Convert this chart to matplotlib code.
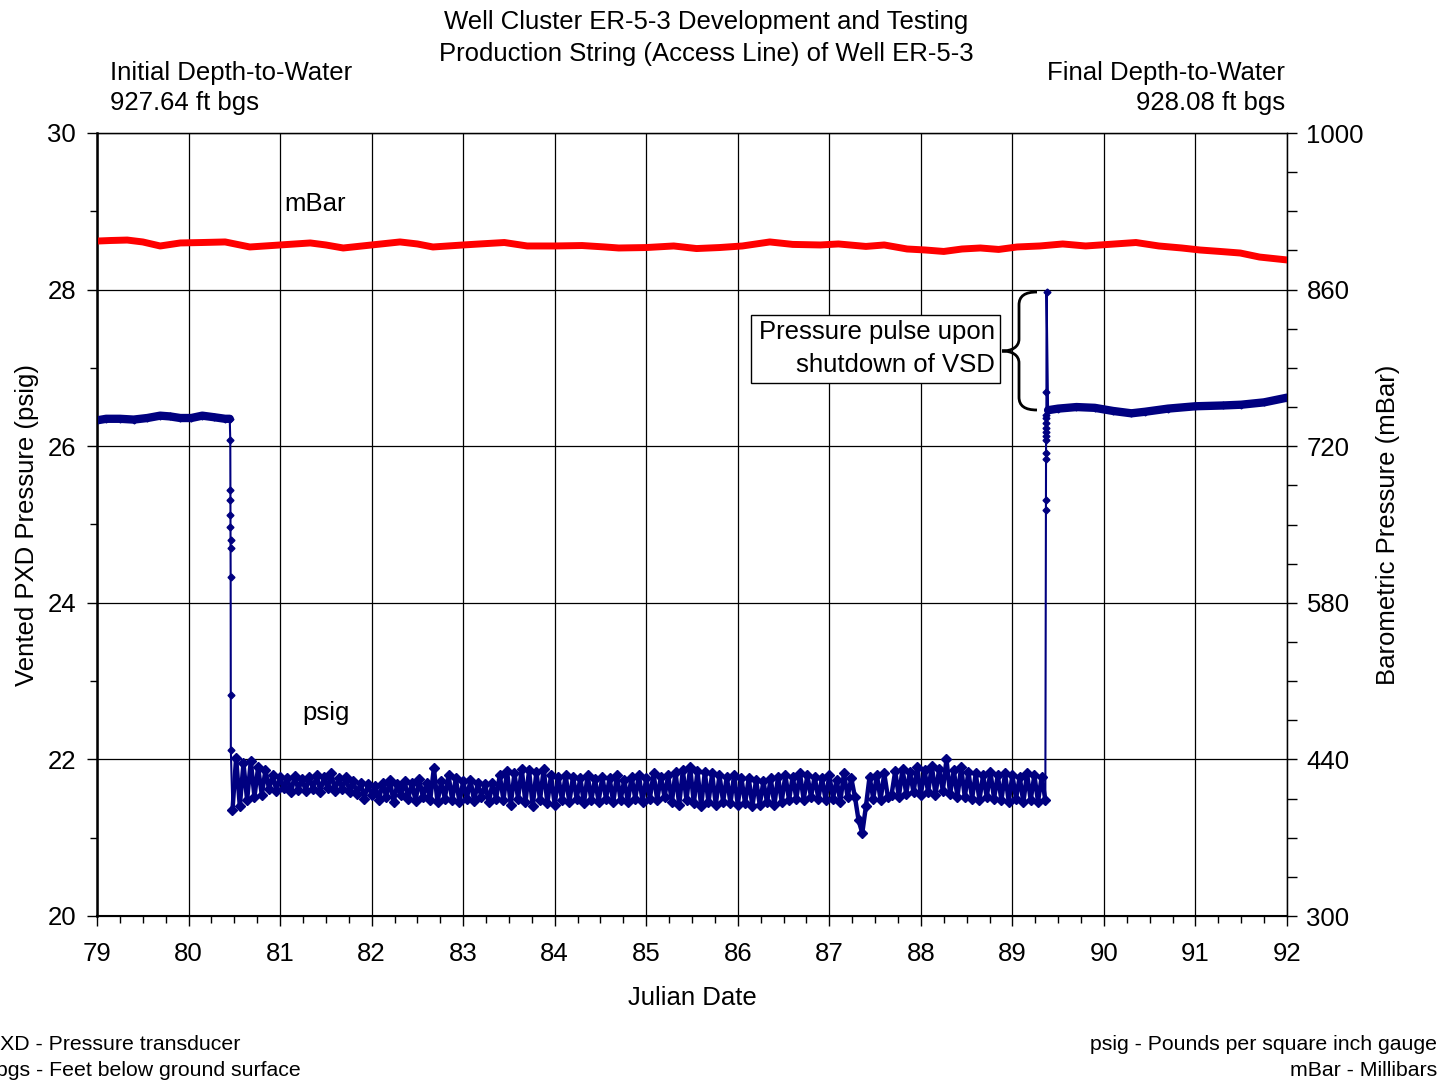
import matplotlib
matplotlib.use('Agg')
import matplotlib.pyplot as plt
import numpy as np
from matplotlib.path import Path
from matplotlib.patches import PathPatch, Rectangle
from matplotlib.ticker import MultipleLocator, FixedLocator

plt.rcParams['font.family'] = ['Liberation Sans', 'DejaVu Sans']

# ---- data ----
# barometric pressure (mBar), right axis
baro_day = [79.00, 79.15, 79.33, 79.50, 79.69, 79.91, 80.15, 80.40, 80.67, 81.00,
            81.33, 81.50, 81.69, 82.00, 82.31, 82.50, 82.67, 83.00, 83.18, 83.45,
            83.70, 84.00, 84.30, 84.55, 84.70, 85.00, 85.30, 85.55, 85.80, 86.05,
            86.35, 86.60, 86.90, 87.10, 87.40, 87.60, 87.85, 88.05, 88.25, 88.45,
            88.65, 88.85, 89.05, 89.30, 89.55, 89.80, 90.05, 90.35, 90.60, 90.85,
            91.05, 91.27, 91.49, 91.70, 92.00]
baro_mbar = [903.4, 903.9, 904.3, 902.6, 899.0, 901.7, 902.1, 902.6, 898.1, 899.9,
             901.7, 899.9, 897.2, 899.9, 902.6, 900.8, 898.1, 899.9, 900.8, 902.1,
             899.0, 899.0, 899.4, 898.1, 897.2, 897.6, 899.0, 896.7, 897.6, 899.0,
             902.6, 900.4, 899.9, 900.8, 898.6, 899.9, 896.3, 895.4, 894.1, 896.3,
             897.2, 895.9, 898.1, 899.0, 900.8, 899.0, 900.4, 902.1, 899.0, 897.2,
             895.4, 894.1, 892.7, 889.1, 886.5]

# vented PXD pressure (psig), left axis
pre_day = [79.00, 79.10, 79.25, 79.40, 79.55, 79.69, 79.80, 79.91, 80.03, 80.15,
           80.28, 80.40, 80.45]
pre_psig = [26.33, 26.35, 26.35, 26.34, 26.36, 26.39, 26.38, 26.36, 26.36, 26.39,
            26.37, 26.35, 26.35]

drop_day = [80.456, 80.457, 80.457, 80.458, 80.458, 80.459, 80.459, 80.460, 80.461, 80.462]
drop_psig = [26.08, 25.44, 25.31, 25.12, 24.97, 24.80, 24.70, 24.33, 22.82, 22.12]

# pumping period, one reading every 0.04 day starting at day 80.48
noise_start = 80.48
noise_step = 0.04
noise_psig = [
    21.35, 22.02, 21.40, 21.95, 21.48, 21.98, 21.52, 21.90, 21.55, 21.86,
    21.62, 21.80, 21.60, 21.78, 21.63, 21.76, 21.58, 21.79, 21.61, 21.75,
    21.60, 21.78, 21.62, 21.80, 21.59, 21.77, 21.63, 21.82, 21.60, 21.76,
    21.62, 21.78, 21.58, 21.72, 21.56, 21.70, 21.50, 21.68, 21.55, 21.66,
    21.48, 21.70, 21.52, 21.74, 21.45, 21.68, 21.55, 21.72, 21.50, 21.70,
    21.47, 21.75, 21.52, 21.70, 21.48, 21.89, 21.45, 21.72, 21.50, 21.80,
    21.48, 21.76, 21.45, 21.72, 21.50, 21.74, 21.47, 21.70, 21.52, 21.68,
    21.45, 21.70, 21.50, 21.80, 21.48, 21.85, 21.42, 21.82, 21.50, 21.88,
    21.45, 21.86, 21.40, 21.84, 21.48, 21.88, 21.44, 21.80, 21.42, 21.78,
    21.48, 21.80, 21.45, 21.78, 21.50, 21.76, 21.44, 21.80, 21.48, 21.75,
    21.46, 21.78, 21.50, 21.76, 21.45, 21.80, 21.48, 21.74, 21.46, 21.78,
    21.50, 21.80, 21.46, 21.76, 21.50, 21.82, 21.48, 21.78, 21.52, 21.80,
    21.45, 21.84, 21.42, 21.86, 21.48, 21.90, 21.44, 21.85, 21.40, 21.84,
    21.45, 21.82, 21.42, 21.80, 21.46, 21.78, 21.44, 21.80, 21.42, 21.76,
    21.44, 21.76, 21.40, 21.74, 21.42, 21.72, 21.45, 21.76, 21.42, 21.78,
    21.46, 21.80, 21.48, 21.78, 21.50, 21.82, 21.48, 21.80, 21.52, 21.78,
    21.50, 21.76, 21.48, 21.80, 21.50, 21.74, 21.46, 21.82, 21.52, 21.76,
    21.52, 21.22, 21.06, 21.40, 21.78, 21.50, 21.80, 21.48, 21.82, 21.52,
    21.55, 21.85, 21.52, 21.88, 21.56, 21.84, 21.58, 21.90, 21.55, 21.86,
    21.58, 21.92, 21.55, 21.88, 21.60, 22.00, 21.56, 21.86, 21.52, 21.90,
    21.52, 21.84, 21.50, 21.82, 21.48, 21.80, 21.52, 21.84, 21.50, 21.80,
    21.48, 21.82, 21.46, 21.80, 21.50, 21.78, 21.45, 21.82, 21.48, 21.80,
    21.46, 21.78, 21.48,
]

rise_day = [89.366, 89.367, 89.367, 89.368, 89.368, 89.369, 89.369, 89.370, 89.370,
            89.371, 89.371, 89.372, 89.373]
rise_psig = [25.19, 25.31, 25.84, 25.91, 26.08, 26.13, 26.18, 26.23, 26.30,
             26.36, 26.40, 26.69, 27.97]

post_day = [89.39, 89.50, 89.70, 89.90, 90.10, 90.30, 90.45, 90.70, 91.00, 91.30,
            91.50, 91.75, 92.00]
post_psig = [26.46, 26.48, 26.50, 26.49, 26.45, 26.42, 26.44, 26.48, 26.51, 26.52,
             26.53, 26.56, 26.62]

NAVY = '#000080'
RED = '#ff0000'
FS = 18.5
FS_NOTE = 15.3

W, H = 1444, 1085


def fx(px):
    return px / W


def fy(py):
    return 1 - py / H


noise_day = noise_start + noise_step * np.arange(len(noise_psig))
all_day = np.concatenate([pre_day, drop_day, noise_day, rise_day, post_day])
all_psig = np.concatenate([pre_psig, drop_psig, noise_psig, rise_psig, post_psig])

fig = plt.figure(figsize=(14.44, 10.85), dpi=100)
ax = fig.add_axes([fx(97), fy(916), fx(1287) - fx(97), fy(133) - fy(916)])
ax2 = ax.twinx()

ax.plot(all_day, all_psig, color=NAVY, lw=1.5, marker='D', ms=3.5, zorder=3)
ax.plot(noise_day, noise_psig, color=NAVY, lw=3.2, marker='D', ms=5, zorder=3)
ax.plot(pre_day, pre_psig, color=NAVY, lw=6, solid_capstyle='round', zorder=3)
ax.plot(post_day, post_psig, color=NAVY, lw=6, solid_capstyle='round', zorder=3)
ax2.plot(baro_day, baro_mbar, color=RED, lw=5, solid_capstyle='round',
         solid_joinstyle='round')

ax.set_xlim(79, 92)
ax.set_ylim(20, 30)
ax2.set_ylim(300, 1000)

ax.xaxis.set_major_locator(MultipleLocator(1))
ax.xaxis.set_minor_locator(MultipleLocator(0.25))
ax.yaxis.set_major_locator(MultipleLocator(2))
ax.yaxis.set_minor_locator(MultipleLocator(1))
ax2.yaxis.set_major_locator(FixedLocator(np.arange(300, 1001, 140)))
ax2.yaxis.set_minor_locator(FixedLocator(np.arange(300, 1001, 35)))

ax.grid(True, which='major', color='black', lw=0.9)
ax.set_axisbelow(True)

ax.tick_params(axis='x', which='major', direction='out', length=7, width=1,
               labelsize=FS, pad=12)
ax.tick_params(axis='x', which='minor', direction='out', length=5, width=1)
ax.tick_params(axis='y', which='major', direction='out', length=7, width=1,
               labelsize=FS, pad=8)
ax.tick_params(axis='y', which='minor', direction='out', length=5, width=1)
ax2.tick_params(axis='y', which='both', direction='out', length=7, width=1,
                labelsize=FS, pad=7)

for sp in ax.spines.values():
    sp.set_linewidth(1)
ax.spines['left'].set_linewidth(1.8)
ax.spines['bottom'].set_linewidth(1.5)

ax.set_xlabel('Julian Date', fontsize=FS, labelpad=14)
ax.set_ylabel('Vented PXD Pressure (psig)', fontsize=FS, labelpad=6)
ax2.set_ylabel('Barometric Pressure (mBar)', fontsize=FS, labelpad=9)

# series labels
ax.text(81.05, 29.0, 'mBar', fontsize=FS, ha='left', va='baseline')
ax.text(81.24, 22.5, 'psig', fontsize=FS, ha='left', va='baseline')

# titles and notes
fig.text(fx(706), fy(29), 'Well Cluster ER-5-3 Development and Testing',
         fontsize=FS, ha='center', va='baseline')
fig.text(fx(706), fy(61), 'Production String (Access Line) of Well ER-5-3',
         fontsize=FS, ha='center', va='baseline')
fig.text(fx(110), fy(80), 'Initial Depth-to-Water', fontsize=FS, ha='left', va='baseline')
fig.text(fx(110), fy(110), '927.64 ft bgs', fontsize=FS, ha='left', va='baseline')
fig.text(fx(1285), fy(80), 'Final Depth-to-Water', fontsize=FS, ha='right', va='baseline')
fig.text(fx(1285), fy(110), '928.08 ft bgs', fontsize=FS, ha='right', va='baseline')

fig.text(fx(-14), fy(1050), 'PXD - Pressure transducer', fontsize=FS_NOTE,
         ha='left', va='baseline')
fig.text(fx(-4), fy(1076), 'bgs - Feet below ground surface', fontsize=FS_NOTE,
         ha='left', va='baseline')
fig.text(fx(1437), fy(1050), 'psig - Pounds per square inch gauge', fontsize=FS_NOTE,
         ha='right', va='baseline')
fig.text(fx(1437), fy(1076), 'mBar - Millibars', fontsize=FS_NOTE,
         ha='right', va='baseline')

# callout box with brace
fig.patches.append(Rectangle((fx(751), fy(383)), fx(1000) - fx(751), fy(315) - fy(383),
                             transform=fig.transFigure, facecolor='white',
                             edgecolor='black', lw=1, zorder=2))
fig.text(fx(995), fy(339), 'Pressure pulse upon', fontsize=FS, ha='right',
         va='baseline', zorder=3)
fig.text(fx(995), fy(372), 'shutdown of VSD', fontsize=FS, ha='right',
         va='baseline', zorder=3)

brace_px = [(1037, 292), (1025, 292), (1019, 296), (1019, 305),
            (1019, 339),
            (1019, 347), (1012, 351), (1002, 351),
            (1012, 351), (1019, 355), (1019, 363),
            (1019, 397),
            (1019, 406), (1025, 410), (1037, 410)]
codes = [Path.MOVETO, Path.CURVE4, Path.CURVE4, Path.CURVE4,
         Path.LINETO,
         Path.CURVE4, Path.CURVE4, Path.CURVE4,
         Path.CURVE4, Path.CURVE4, Path.CURVE4,
         Path.LINETO,
         Path.CURVE4, Path.CURVE4, Path.CURVE4]
verts = [(fx(px), fy(py)) for px, py in brace_px]
fig.patches.append(PathPatch(Path(verts, codes), transform=fig.transFigure,
                             facecolor='none', edgecolor='black', lw=2, zorder=2))

fig.savefig('out.png', dpi=100)
